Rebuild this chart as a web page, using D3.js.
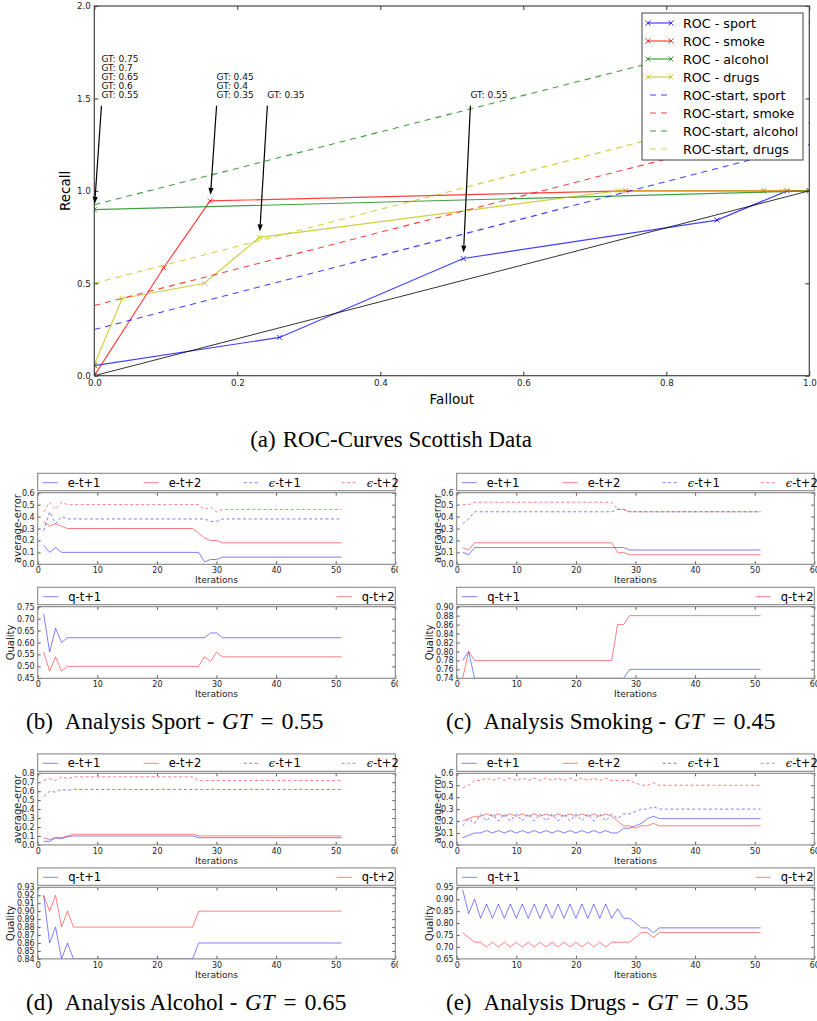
<!DOCTYPE html>
<html>
<head>
<meta charset="utf-8">
<script src="https://cdn.jsdelivr.net/npm/d3@7"></script>
<style>
  body { margin: 0; background: #fff; }
  svg text { font-family: "DejaVu Sans", sans-serif; }
</style>
</head>
<body>
<svg id="fig" width="817" height="1021"></svg>
<script>
// ---------- ROC data, [fallout, recall] ----------
var rocSport   = [[0, 0.055], [0.259, 0.207], [0.516, 0.634], [0.871, 0.842], [0.969, 1.0], [1.0, 1.0]];
var rocSmoke   = [[0, 0], [0.097, 0.584], [0.162, 0.946], [0.743, 1.0], [0.936, 1.0], [1.0, 1.0]];
var rocAlcohol = [[0, 0.898], [1.0, 1.0]];
var rocDrugs   = [[0, 0.06], [0.039, 0.418], [0.154, 0.5], [0.231, 0.748], [0.732, 1.0], [0.962, 1.0], [1.0, 1.0]];
var startSport   = [[0, 0.25], [1, 1.25]];
var startSmoke   = [[0, 0.38], [1, 1.37]];
var startAlcohol = [[0, 0.925], [1, 1.91]];
var startDrugs   = [[0, 0.5], [1, 1.5]];
var diagonal     = [[0, 0], [1, 1]];

var rocNames = ["ROC - sport", "ROC - smoke", "ROC - alcohol", "ROC - drugs",
                "ROC-start, sport", "ROC-start, smoke", "ROC-start, alcohol", "ROC-start, drugs"];
var mainXTicks = [0, 0.2, 0.4, 0.6, 0.8, 1.0];
var mainYTicks = [0, 0.5, 1.0, 1.5, 2.0];

// annotations: label lines, text anchor [fallout, recall], arrow tip
var annLabels = [["GT: 0.75", "GT: 0.7", "GT: 0.65", "GT: 0.6", "GT: 0.55"],
                 ["GT: 0.45", "GT: 0.4", "GT: 0.35"],
                 ["GT: 0.35"],
                 ["GT: 0.55"]];
var annText = [[0.01, 1.5], [0.171, 1.5], [0.242, 1.5], [0.526, 1.5]];
var annTip  = [[0, 0.898], [0.162, 0.946], [0.231, 0.748], [0.516, 0.634]];

// ---------- iteration data, [iteration, value] ----------
// (b) sport
var sportErr1 = [[1,0.16],[2,0.10],[3,0.14],[4,0.10],[27,0.10],[28,0.02],[29,0.04],[30,0.04],[31,0.06],[51,0.06]];
var sportErr2 = [[1,0.36],[2,0.32],[3,0.34],[4,0.32],[5,0.30],[26,0.30],[27,0.26],[28,0.22],[29,0.20],[30,0.20],[31,0.18],[51,0.18]];
var sportEps1 = [[1,0.28],[2,0.44],[3,0.34],[4,0.40],[5,0.38],[28,0.38],[29,0.36],[30,0.36],[31,0.38],[51,0.38]];
var sportEps2 = [[1,0.44],[2,0.52],[3,0.46],[4,0.52],[5,0.50],[27,0.50],[28,0.46],[29,0.48],[30,0.44],[31,0.46],[51,0.46]];
var sportQ1   = [[1,0.72],[2,0.56],[3,0.66],[4,0.60],[5,0.62],[28,0.62],[29,0.64],[30,0.64],[31,0.62],[51,0.62]];
var sportQ2   = [[1,0.56],[2,0.48],[3,0.54],[4,0.48],[5,0.50],[27,0.50],[28,0.54],[29,0.52],[30,0.56],[31,0.54],[51,0.54]];
// (c) smoking
var smokeErr1 = [[1,0.10],[2,0.08],[3,0.14],[28,0.14],[29,0.12],[51,0.12]];
var smokeErr2 = [[1,0.14],[2,0.12],[3,0.18],[26,0.18],[27,0.10],[28,0.10],[29,0.08],[51,0.08]];
var smokeEps1 = [[1,0.34],[2,0.38],[3,0.44],[26,0.44],[27,0.46],[28,0.46],[29,0.44],[51,0.44]];
var smokeEps2 = [[1,0.50],[2,0.50],[3,0.52],[26,0.52],[27,0.46],[28,0.46],[29,0.44],[51,0.44]];
var smokeQ1   = [[1,0.78],[2,0.80],[3,0.74],[28,0.74],[29,0.76],[51,0.76]];
var smokeQ2   = [[1,0.74],[2,0.80],[3,0.78],[26,0.78],[27,0.86],[28,0.86],[29,0.88],[51,0.88]];
// (d) alcohol
var alcErr1 = [[1,0.04],[2,0.04],[3,0.08],[4,0.07],[5,0.09],[6,0.10],[26,0.10],[27,0.08],[51,0.08]];
var alcErr2 = [[1,0.08],[2,0.06],[3,0.08],[4,0.08],[5,0.10],[6,0.12],[26,0.12],[27,0.10],[51,0.10]];
var alcEps1 = [[1,0.54],[2,0.60],[3,0.59],[4,0.62],[5,0.61],[6,0.62],[51,0.62]];
var alcEps2 = [[1,0.72],[2,0.74],[3,0.72],[4,0.76],[5,0.74],[6,0.76],[26,0.76],[27,0.72],[51,0.72]];
var alcQ1   = [[1,0.92],[2,0.86],[3,0.88],[4,0.84],[5,0.86],[6,0.84],[26,0.84],[27,0.86],[51,0.86]];
var alcQ2   = [[1,0.92],[2,0.90],[3,0.92],[4,0.88],[5,0.90],[6,0.88],[26,0.88],[27,0.90],[51,0.90]];
// (e) drugs
var drugErr1 = [[1,0.06],[2,0.08],[3,0.10],[4,0.10],[5,0.12],[6,0.10],[7,0.12],[8,0.10],[9,0.12],[10,0.10],
                [11,0.12],[12,0.10],[13,0.12],[14,0.10],[15,0.12],[16,0.10],[17,0.12],[18,0.10],[19,0.12],[20,0.10],
                [21,0.12],[22,0.10],[23,0.12],[24,0.10],[25,0.12],[26,0.10],[27,0.10],[28,0.14],[29,0.14],[30,0.16],
                [31,0.18],[32,0.22],[33,0.24],[34,0.22],[51,0.22]];
var drugErr2 = [[1,0.20],[2,0.22],[3,0.24],[4,0.24],[5,0.26],[6,0.24],[7,0.26],[8,0.24],[9,0.26],[10,0.24],
                [11,0.26],[12,0.24],[13,0.26],[14,0.24],[15,0.26],[16,0.24],[17,0.26],[18,0.24],[19,0.26],[20,0.24],
                [21,0.26],[22,0.24],[23,0.26],[24,0.24],[25,0.26],[26,0.24],[27,0.20],[28,0.16],[29,0.16],[30,0.14],
                [31,0.16],[32,0.16],[33,0.18],[34,0.16],[51,0.16]];
var drugEps1 = [[1,0.16],[2,0.22],[3,0.18],[4,0.26],[5,0.20],[6,0.26],[7,0.20],[8,0.26],[9,0.20],[10,0.26],
                [11,0.20],[12,0.26],[13,0.20],[14,0.26],[15,0.20],[16,0.26],[17,0.20],[18,0.26],[19,0.20],[20,0.26],
                [21,0.20],[22,0.26],[23,0.20],[24,0.26],[25,0.20],[26,0.26],[27,0.22],[28,0.26],[29,0.26],[30,0.28],
                [31,0.30],[32,0.30],[33,0.32],[34,0.30],[51,0.30]];
var drugEps2 = [[1,0.48],[2,0.50],[3,0.54],[4,0.54],[5,0.56],[6,0.54],[7,0.56],[8,0.54],[9,0.56],[10,0.54],
                [11,0.56],[12,0.54],[13,0.56],[14,0.54],[15,0.56],[16,0.54],[17,0.56],[18,0.54],[19,0.56],[20,0.54],
                [21,0.56],[22,0.54],[23,0.56],[24,0.54],[25,0.56],[26,0.54],[27,0.54],[28,0.54],[29,0.54],[30,0.52],
                [31,0.50],[32,0.50],[33,0.52],[34,0.50],[51,0.50]];
var drugQ1 = [[1,0.94],[2,0.84],[3,0.90],[4,0.82],[5,0.88],[6,0.82],[7,0.88],[8,0.82],[9,0.88],[10,0.82],
              [11,0.88],[12,0.82],[13,0.88],[14,0.82],[15,0.88],[16,0.82],[17,0.88],[18,0.82],[19,0.88],[20,0.82],
              [21,0.88],[22,0.82],[23,0.88],[24,0.82],[25,0.88],[26,0.82],[27,0.86],[28,0.82],[29,0.82],[30,0.80],
              [31,0.78],[32,0.78],[33,0.76],[34,0.78],[51,0.78]];
var drugQ2 = [[1,0.76],[2,0.74],[3,0.72],[4,0.72],[5,0.70],[6,0.72],[7,0.70],[8,0.72],[9,0.70],[10,0.72],
              [11,0.70],[12,0.72],[13,0.70],[14,0.72],[15,0.70],[16,0.72],[17,0.70],[18,0.72],[19,0.70],[20,0.72],
              [21,0.70],[22,0.72],[23,0.70],[24,0.72],[25,0.70],[26,0.72],[27,0.72],[28,0.72],[29,0.72],[30,0.74],
              [31,0.76],[32,0.76],[33,0.74],[34,0.76],[51,0.76]];

var iterTicks = [0, 10, 20, 30, 40, 50, 60];
var errTicks6 = [0, 0.1, 0.2, 0.3, 0.4, 0.5, 0.6];
var errTicks8 = [0, 0.1, 0.2, 0.3, 0.4, 0.5, 0.6, 0.7, 0.8];
var sportQTicks = [0.45, 0.50, 0.55, 0.60, 0.65, 0.70, 0.75];
var smokeQTicks = [0.74, 0.76, 0.78, 0.80, 0.82, 0.84, 0.86, 0.88, 0.90];
var alcQTicks   = [0.84, 0.85, 0.86, 0.87, 0.88, 0.89, 0.90, 0.91, 0.92, 0.93];
var drugQTicks  = [0.65, 0.70, 0.75, 0.80, 0.85, 0.90, 0.95];

var captions = [["a", "ROC-Curves Scottish Data"], ["b", "Sport", "0.55"], ["c", "Smoking", "0.45"],
                ["d", "Alcohol", "0.65"], ["e", "Drugs", "0.35"]];

var svg = d3.select("#fig");
var defs = svg.append("defs");
var xMark = "M-2.5,-2.5L2.5,2.5M-2.5,2.5L2.5,-2.5";

// ================= (a) ROC chart =================
var L = 94.3, R = 809.3, T = 6, B = 375.7;
var x = d3.scaleLinear().domain([0, 1]).range([L, R]);
var y = d3.scaleLinear().domain([0, 2]).range([B, T]);

defs.append("clipPath").attr("id", "mainClip")
  .append("rect").attr("x", L).attr("y", T).attr("width", R - L).attr("height", B - T);

var main = svg.append("g");
var plot = main.append("g").attr("clip-path", "url(#mainClip)");
var line = d3.line().x(function(d) { return x(d[0]); }).y(function(d) { return y(d[1]); });

var rocColors = ["#0000ff", "#ff0000", "#008000", "#bfbf00"];
var rocSeries = [rocSport, rocSmoke, rocAlcohol, rocDrugs];
var startSeries = [startSport, startSmoke, startAlcohol, startDrugs];

rocSeries.forEach(function(s, i) {
  plot.append("path").attr("d", line(s)).attr("fill", "none")
    .attr("stroke", rocColors[i]).attr("stroke-opacity", 0.75).attr("stroke-width", 1.2);
  plot.selectAll(null).data(s).enter().append("path")
    .attr("d", xMark)
    .attr("transform", function(d) { return "translate(" + x(d[0]) + "," + y(d[1]) + ")"; })
    .attr("stroke", rocColors[i]).attr("stroke-opacity", 0.75).attr("stroke-width", 1);
});
startSeries.forEach(function(s, i) {
  plot.append("path").attr("d", line(s)).attr("fill", "none")
    .attr("stroke", rocColors[i]).attr("stroke-opacity", 0.75).attr("stroke-width", 1.1)
    .attr("stroke-dasharray", "6,5");
});
plot.append("path").attr("d", line(diagonal)).attr("fill", "none")
  .attr("stroke", "#000").attr("stroke-opacity", 0.8).attr("stroke-width", 1);

// axes, ticks pointing inwards on all four sides
main.append("g").attr("transform", "translate(0," + B + ")")
  .call(d3.axisBottom(x).tickValues(mainXTicks).tickFormat(d3.format(".1f")).tickSize(-4).tickPadding(4.5));
main.append("g").attr("transform", "translate(0," + T + ")")
  .call(d3.axisTop(x).tickValues(mainXTicks).tickFormat("").tickSize(-4));
main.append("g").attr("transform", "translate(" + L + ",0)")
  .call(d3.axisLeft(y).tickValues(mainYTicks).tickFormat(d3.format(".1f")).tickSize(-4).tickPadding(3.6));
main.append("g").attr("transform", "translate(" + R + ",0)")
  .call(d3.axisRight(y).tickValues(mainYTicks).tickFormat("").tickSize(-4));
main.selectAll(".domain").remove();
main.selectAll(".tick line").attr("stroke", "#333");
main.selectAll(".tick text").style("font-size", "8.7px").attr("fill", "#222");
main.append("rect").attr("x", L).attr("y", T).attr("width", R - L).attr("height", B - T)
  .attr("fill", "none").attr("stroke", "#444").attr("stroke-width", 1.2);

main.append("text").attr("transform", "translate(69.7," + ((T + B) / 2) + ") rotate(-90)")
  .attr("text-anchor", "middle").style("font-size", "13.5px").text("Recall");
main.append("text").attr("x", (L + R) / 2).attr("y", 404)
  .attr("text-anchor", "middle").style("font-size", "13.5px").text("Fallout");

// annotations with arrows
annLabels.forEach(function(lines, i) {
  var tx = x(annText[i][0]), ty = y(annText[i][1]);
  lines.forEach(function(t, j) {
    main.append("text").attr("x", tx).attr("y", ty - (lines.length - 1 - j) * 9.2)
      .style("font-size", "9px").attr("fill", "#111").text(t);
  });
  var sx = tx, sy = y(1.46);
  var ex = x(annTip[i][0]), ey = y(annTip[i][1]);
  var dx = ex - sx, dy = ey - sy, len = Math.sqrt(dx * dx + dy * dy);
  var ux = dx / len, uy = dy / len;
  ex -= ux * 6; ey -= uy * 6;
  var bx = ex - ux * 7, by = ey - uy * 7;
  main.append("line").attr("x1", sx).attr("y1", sy).attr("x2", bx).attr("y2", by)
    .attr("stroke", "#000").attr("stroke-width", 1.2);
  main.append("path")
    .attr("d", "M" + ex + "," + ey + "L" + (bx - uy * 2.6) + "," + (by + ux * 2.6) +
               "L" + (bx + uy * 2.6) + "," + (by - ux * 2.6) + "Z")
    .attr("fill", "#000");
});

// legend
var lg = main.append("g");
lg.append("rect").attr("x", 642).attr("y", 13).attr("width", 161).attr("height", 147)
  .attr("fill", "#fff").attr("stroke", "#444").attr("stroke-width", 1);
rocNames.forEach(function(name, i) {
  var cy = 23 + i * 18;
  var c = rocColors[i % 4];
  var ln = lg.append("line").attr("x1", 648).attr("x2", 671).attr("y1", cy).attr("y2", cy)
    .attr("stroke", c).attr("stroke-opacity", 0.75).attr("stroke-width", 1.2);
  if (i < 4) {
    [648, 671].forEach(function(mx) {
      lg.append("path").attr("d", xMark).attr("transform", "translate(" + mx + "," + cy + ")")
        .attr("stroke", c).attr("stroke-opacity", 0.75).attr("stroke-width", 1);
    });
  } else {
    ln.attr("x1", 650).attr("x2", 667).attr("stroke-dasharray", "6,5");
  }
  lg.append("text").attr("x", 683).attr("y", cy + 4.6).style("font-size", "12.7px").text(name);
});

// captions
function caption(x0, y0, parts) {
  var t = svg.append("text").attr("x", x0).attr("y", y0)
    .style("font-family", "'Liberation Serif', 'Times New Roman', serif").style("font-size", "23px")
    .style("white-space", "pre");
  t.append("tspan").text("(" + parts[0] + ")");
  if (parts.length === 2) {
    t.append("tspan").attr("dx", 7).text(parts[1]);
  } else {
    t.append("tspan").attr("dx", 12).text("Analysis " + parts[1] + " - ");
    t.append("tspan").attr("dx", 2).style("font-style", "italic").text("GT");
    t.append("tspan").attr("dx", 9).text("=");
    t.append("tspan").attr("dx", 8).style("font-size", "24px").text(parts[2]);
  }
  return t;
}
caption(0, 446.7, captions[0]).attr("x", 391).attr("text-anchor", "middle");

// ================= (b)-(e) iteration panels =================
var colX = [[37.7, 395.3], [456.7, 814.3]];
var rowErrTop = [492.7, 773.3];
var rowQTop = [606.7, 887.3];
var panelH = 71.6;
var blue = "#0000ff", red = "#ff0000";

defs.append("clipPath").attr("id", "leftCol")
  .append("rect").attr("x", 0).attr("y", 0).attr("width", 398).attr("height", 1021);

function panel(parent, col, top, yDomain, yTicks, yLabel, labelOff, series, legend) {
  var x0 = colX[col][0], x1 = colX[col][1], bottom = top + panelH;
  var sx = d3.scaleLinear().domain([0, 60]).range([x0, x1]);
  var sy = d3.scaleLinear().domain(yDomain).range([bottom, top]);
  var g = parent.append("g");
  var id = "clip" + col + "_" + Math.round(top);
  defs.append("clipPath").attr("id", id)
    .append("rect").attr("x", x0).attr("y", top).attr("width", x1 - x0).attr("height", panelH);
  var ln = d3.line().x(function(d) { return sx(d[0]); }).y(function(d) { return sy(d[1]); });
  var pg = g.append("g").attr("clip-path", "url(#" + id + ")");
  series.forEach(function(s) {
    pg.append("path").attr("d", ln(s.data)).attr("fill", "none")
      .attr("stroke", s.color).attr("stroke-opacity", 0.5).attr("stroke-width", 1)
      .attr("stroke-dasharray", s.dash ? "3,2.5" : null);
  });
  var fmt = d3.format(yTicks[1] - yTicks[0] < 0.09 ? ".2f" : ".1f");
  var ax = g.append("g");
  ax.append("g").attr("transform", "translate(0," + bottom + ")")
    .call(d3.axisBottom(sx).tickValues(iterTicks).tickSize(-3).tickPadding(3));
  ax.append("g").attr("transform", "translate(0," + top + ")")
    .call(d3.axisTop(sx).tickValues(iterTicks).tickFormat("").tickSize(-3));
  ax.append("g").attr("transform", "translate(" + x0 + ",0)")
    .call(d3.axisLeft(sy).tickValues(yTicks).tickFormat(fmt).tickSize(-3).tickPadding(3));
  ax.append("g").attr("transform", "translate(" + x1 + ",0)")
    .call(d3.axisRight(sy).tickValues(yTicks).tickFormat("").tickSize(-3));
  ax.selectAll(".domain").remove();
  ax.selectAll(".tick line").attr("stroke", "#555");
  ax.selectAll(".tick text").style("font-size", "8px").attr("fill", "#222");
  g.append("rect").attr("x", x0).attr("y", top).attr("width", x1 - x0).attr("height", panelH)
    .attr("fill", "none").attr("stroke", "#888").attr("stroke-width", 1.1);
  g.append("text").attr("x", (x0 + x1) / 2).attr("y", bottom + 19)
    .attr("text-anchor", "middle").style("font-size", "9px").attr("fill", "#222").text("Iterations");
  g.append("text").attr("transform", "translate(" + (x0 + labelOff) + "," + ((top + bottom) / 2) + ") rotate(-90)")
    .attr("text-anchor", "middle").style("font-size", "10px").attr("fill", "#222").text(yLabel);

  // legend box above the axes
  g.append("rect").attr("x", x0).attr("y", top - 19.4).attr("width", x1 - x0).attr("height", 17.4)
    .attr("fill", "#fff").attr("stroke", "#888").attr("stroke-width", 1.1);
  var cy = top - 10;
  legend.forEach(function(item) {
    g.append("line").attr("x1", x0 + item.at).attr("x2", x0 + item.at + 15)
      .attr("y1", cy).attr("y2", cy)
      .attr("stroke", item.color).attr("stroke-opacity", 0.5).attr("stroke-width", 1)
      .attr("stroke-dasharray", item.dash ? "3,2.5" : null);
    var t = g.append("text").attr("x", x0 + item.at + 25).attr("y", cy + 4).style("font-size", "11.5px");
    if (item.eps) {
      t.append("tspan").style("font-family", "'DejaVu Serif', serif").style("font-style", "italic").text("\u03F5");
      t.append("tspan").text(item.label);
    } else {
      t.text(item.label);
    }
  });
}

var errLegend = [
  {at: 5, label: "e-t+1", color: blue},
  {at: 106, label: "e-t+2", color: red},
  {at: 206, label: "-t+1", color: blue, dash: true, eps: true},
  {at: 304, label: "-t+2", color: red, dash: true, eps: true}
];
var qLegend = [
  {at: 5.5, label: "q-t+1", color: blue},
  {at: 299, label: "q-t+2", color: red}
];
function errSeries(a, b, c, d) {
  return [{data: a, color: blue}, {data: b, color: red},
          {data: c, color: blue, dash: true}, {data: d, color: red, dash: true}];
}
function qSeries(a, b) {
  return [{data: a, color: blue}, {data: b, color: red}];
}

var left = svg.append("g").attr("clip-path", "url(#leftCol)");
var right = svg.append("g");

panel(left, 0, rowErrTop[0], [0, 0.6], errTicks6, "average-error", -17,
      errSeries(sportErr1, sportErr2, sportEps1, sportEps2), errLegend);
panel(left, 0, rowQTop[0], [0.45, 0.75], sportQTicks, "Quality", -24, qSeries(sportQ1, sportQ2), qLegend);
panel(right, 1, rowErrTop[0], [0, 0.6], errTicks6, "average-error", -16,
      errSeries(smokeErr1, smokeErr2, smokeEps1, smokeEps2), errLegend);
panel(right, 1, rowQTop[0], [0.74, 0.90], smokeQTicks, "Quality", -23.5, qSeries(smokeQ1, smokeQ2), qLegend);
panel(left, 0, rowErrTop[1], [0, 0.8], errTicks8, "average-error", -17,
      errSeries(alcErr1, alcErr2, alcEps1, alcEps2), errLegend);
panel(left, 0, rowQTop[1], [0.84, 0.93], alcQTicks, "Quality", -24, qSeries(alcQ1, alcQ2), qLegend);
panel(right, 1, rowErrTop[1], [0, 0.6], errTicks6, "average-error", -16,
      errSeries(drugErr1, drugErr2, drugEps1, drugEps2), errLegend);
panel(right, 1, rowQTop[1], [0.65, 0.95], drugQTicks, "Quality", -23.5, qSeries(drugQ1, drugQ2), qLegend);

caption(26, 729.3, captions[1]);
caption(446, 729.3, captions[2]);
caption(26, 1009.9, captions[3]);
caption(446, 1009.9, captions[4]);
</script>
</body>
</html>
